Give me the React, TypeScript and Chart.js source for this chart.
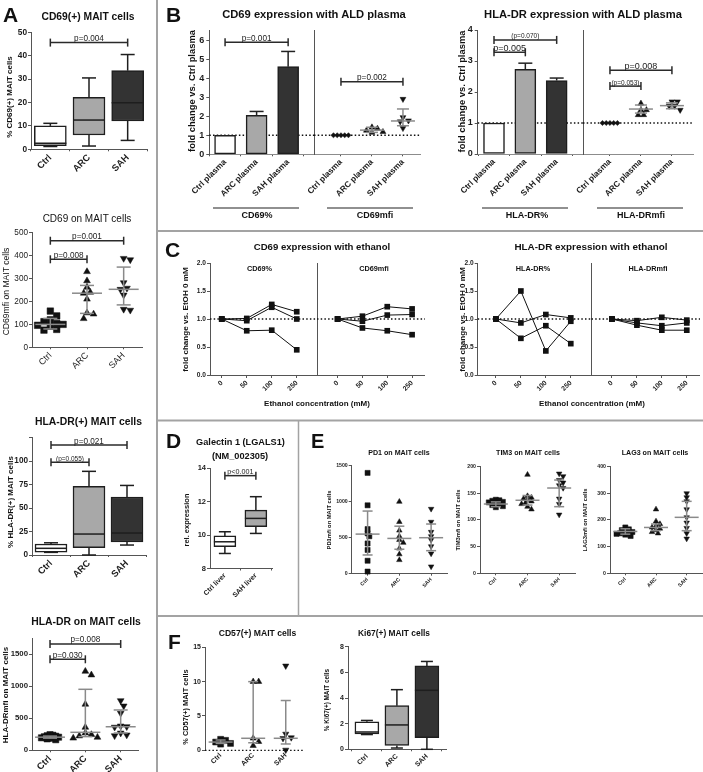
import React, { useEffect, useRef } from "react";
import { Chart, registerables } from "chart.js";
Chart.register(...registerables);

const FONT = "'Liberation Sans', Arial, Helvetica, sans-serif";
const INK = "#1c1c1c";
const AXIS = "#555555";
const LIGHT = "#ffffff";
const MID = "#a8a8a8";
const DARK = "#333333";
const SDGRAY = "#8a8a8a";

// ---------- categories ----------
const GROUPS = ["Ctrl", "ARC", "SAH"];
const PLASMA = ["Ctrl plasma", "ARC plasma", "SAH plasma"];
const ETOH = ["0", "50", "100", "250"];
const LIVER = ["Ctrl liver", "SAH liver"];

// ---------- A1: CD69(+) MAIT cells (box) ----------
const A1_MIN = [1.2, 1.4, 3.8];
const A1_Q1 = [1.6, 6.1, 12.1];
const A1_MED = [2.6, 12.5, 19.9];
const A1_Q3 = [10.0, 22.2, 33.6];
const A1_MAX = [11.1, 30.5, 40.5];

// ---------- A2: CD69 on MAIT cells (dots) ----------
const A2_CTRL = [158, 137, 120, 112, 104, 100, 96, 92, 78, 75];
const A2_ARC = [330, 290, 262, 240, 236, 210, 150, 145, 125];
const A2_SAH = [388, 382, 282, 258, 253, 228, 166, 162];
const A2_MID = [100, 236, 253];
const A2_LO = [80, 148, 185];
const A2_HI = [126, 270, 350];

// ---------- A3: HLA-DR(+) MAIT cells (box) ----------
const A3_MIN = [2.8, 0, 10.6];
const A3_Q1 = [3.0, 7.8, 13.8];
const A3_MED = [7.1, 22.3, 23.4];
const A3_Q3 = [11.7, 73, 61.7];
const A3_MAX = [13, 89, 74];

// ---------- A4: HLA-DR on MAIT cells (dots) ----------
const A4_CTRL = [245, 235, 228, 220, 212, 205, 200, 195, 188, 178, 165];
const A4_ARC = [1234, 1177, 719, 359, 271, 245, 224, 203, 190];
const A4_SAH = [776, 693, 580, 380, 370, 362, 270, 240, 228];
const A4_MID = [205, 281, 368];
const A4_LO = [190, 214, 270];
const A4_HI = [222, 953, 630];

// ---------- B1: CD69 expression with ALD plasma ----------
const B1_BAR = [1.0, 2.05, 4.6];
const B1_ERR = [null, 2.25, 5.4];
const B1_CTRL = [1, 1, 1, 1, 1];
const B1_ARC = [1.42, 1.35, 1.25, 1.18, 1.14];
const B1_SAH = [2.9, 1.94, 1.77, 1.72, 1.37];
const B1_MID = [1.0, 1.27, 1.75];
const B1_LO = [1.0, 1.15, 1.5];
const B1_HI = [1.0, 1.42, 2.38];

// ---------- B2: HLA-DR expression with ALD plasma ----------
const B2_BAR = [1.0, 2.73, 2.37];
const B2_ERR = [null, 2.93, 2.45];
const B2_CTRL = [1, 1, 1, 1, 1];
const B2_ARC = [1.63, 1.42, 1.42, 1.26, 1.26];
const B2_SAH = [1.69, 1.69, 1.55, 1.55, 1.42];
const B2_MID = [1.0, 1.45, 1.56];
const B2_LO = [1.0, 1.32, 1.46];
const B2_HI = [1.0, 1.58, 1.65];

// ---------- C: ethanol time-courses ----------
const C_CD69P_1 = [1, 1.01, 1.26, 1.13];
const C_CD69P_2 = [1, 0.97, 1.21, 1.0];
const C_CD69P_3 = [1, 0.79, 0.8, 0.45];
const C_CD69M_1 = [1, 1.05, 1.22, 1.18];
const C_CD69M_2 = [1, 0.96, 1.07, 1.08];
const C_CD69M_3 = [1, 0.84, 0.79, 0.72];
const C_HLAP_1 = [1, 1.5, 0.43, 0.96];
const C_HLAP_2 = [1, 0.93, 1.08, 1.02];
const C_HLAP_3 = [1, 0.655, 0.88, 0.56];
const C_HLAM_1 = [1, 0.97, 1.03, 0.98];
const C_HLAM_2 = [1, 0.93, 0.88, 0.93];
const C_HLAM_3 = [1, 0.89, 0.8, 0.8];

// ---------- D: Galectin 1 ----------
const D_MIN = [8.9, 10.1];
const D_Q1 = [9.3, 10.5];
const D_MED = [9.6, 11.0];
const D_Q3 = [9.95, 11.5];
const D_MAX = [10.2, 12.3];

// ---------- E: PD1 / TIM3 / LAG3 ----------
const PD1_CTRL = [1400, 950, 620, 560, 520, 420, 330, 180, 30];
const PD1_ARC = [1000, 720, 600, 520, 470, 430, 350, 270, 190];
const PD1_SAH = [900, 720, 580, 520, 470, 380, 280, 100];
const PD1_MID = [550, 490, 500];
const PD1_LO = [260, 340, 320];
const PD1_HI = [870, 660, 690];
const TIM3_CTRL = [138, 137, 136, 134, 133, 131, 130, 128, 126, 124];
const TIM3_ARC = [185, 145, 142, 140, 138, 135, 132, 130, 125, 120];
const TIM3_SAH = [187, 182, 175, 170, 165, 160, 140, 130, 110];
const TIM3_MID = [130, 137, 160];
const TIM3_LO = [125, 128, 125];
const TIM3_HI = [134, 146, 175];
const LAG3_CTRL = [172, 165, 162, 158, 155, 152, 150, 148, 145, 140];
const LAG3_ARC = [240, 195, 185, 178, 172, 168, 162, 155, 150];
const LAG3_SAH = [300, 285, 270, 240, 210, 190, 170, 150, 130];
const LAG3_MID = [157, 172, 210];
const LAG3_LO = [147, 160, 160];
const LAG3_HI = [167, 185, 270];

// ---------- F ----------
const F1_CTRL = [1.6, 1.45, 1.2, 1.0, 0.9];
const F1_ARC = [10, 10, 1.75, 1.26, 0.68];
const F1_SAH = [12.3, 2.38, 1.85, 1.75, 0.05];
const F1_MID = [1.2, 1.75, 1.75];
const F1_LO = [1.0, 1.1, 0.92];
const F1_HI = [1.5, 10, 7.25];
const F2_MIN = [1.15, 0.1, 0.0];
const F2_Q1 = [1.2, 0.3, 0.9];
const F2_MED = [1.35, 1.9, 4.6];
const F2_Q3 = [2.15, 3.4, 6.5];
const F2_MAX = [2.25, 4.65, 6.85];

// ================= helpers =================
type Area = [number, number, number, number];
interface Bracket { a: number; b: number; y: number; text: string; size?: number }
interface Deco {
  ref?: { y: number; color?: string };
  boxes?: { min: number[]; q1: number[]; med: number[]; q3: number[]; max: number[]; w: number; cap: number };
  errs?: { mid: number[]; lo: number[]; hi: number[]; mw: number; cw: number; color?: string; skip?: number[] };
  barErr?: { val: number[]; top: (number | null)[]; cw: number };
  brackets?: Bracket[];
}

function decoPlugin(d: Deco) {
  const seg = (ctx: CanvasRenderingContext2D, a: number, b: number, c: number, e: number) => {
    ctx.beginPath(); ctx.moveTo(a, b); ctx.lineTo(c, e); ctx.stroke();
  };
  return {
    id: "deco",
    beforeDatasetsDraw(chart: any) {
      if (!d.ref) return;
      const { ctx, chartArea: a, scales } = chart;
      const py = scales.y.getPixelForValue(d.ref.y);
      ctx.save();
      ctx.setLineDash([1.5, 2.2]);
      ctx.strokeStyle = d.ref.color ?? "#111";
      ctx.lineWidth = 1.3;
      seg(ctx, a.left, py, a.right, py);
      ctx.restore();
    },
    afterDatasetsDraw(chart: any) {
      const { ctx, scales } = chart;
      const X = (v: number) => scales.x.getPixelForValue(v);
      const Y = (v: number) => scales.y.getPixelForValue(v);
      ctx.save();
      if (d.boxes) {
        const b = d.boxes;
        ctx.strokeStyle = "#1e1e1e"; ctx.lineWidth = 1.5;
        b.q1.forEach((_, i) => {
          const cx = X(i + 1);
          seg(ctx, cx, Y(b.max[i]), cx, Y(b.q3[i]));
          seg(ctx, cx, Y(b.q1[i]), cx, Y(b.min[i]));
          seg(ctx, cx - b.cap / 2, Y(b.max[i]), cx + b.cap / 2, Y(b.max[i]));
          seg(ctx, cx - b.cap / 2, Y(b.min[i]), cx + b.cap / 2, Y(b.min[i]));
          seg(ctx, cx - b.w / 2, Y(b.med[i]), cx + b.w / 2, Y(b.med[i]));
        });
      }
      if (d.barErr) {
        const e = d.barErr;
        ctx.strokeStyle = "#222"; ctx.lineWidth = 1.5;
        e.val.forEach((v, i) => {
          const t = e.top[i];
          if (t == null) return;
          const cx = X(i + 1);
          seg(ctx, cx, Y(v), cx, Y(t));
          seg(ctx, cx - e.cw / 2, Y(t), cx + e.cw / 2, Y(t));
        });
      }
      if (d.errs) {
        const e = d.errs;
        ctx.strokeStyle = e.color ?? SDGRAY; ctx.lineWidth = 1.5;
        e.mid.forEach((m, i) => {
          if (e.skip && e.skip.includes(i)) return;
          const cx = X(i + 1);
          seg(ctx, cx, Y(e.lo[i]), cx, Y(e.hi[i]));
          seg(ctx, cx - e.cw / 2, Y(e.lo[i]), cx + e.cw / 2, Y(e.lo[i]));
          seg(ctx, cx - e.cw / 2, Y(e.hi[i]), cx + e.cw / 2, Y(e.hi[i]));
          seg(ctx, cx - e.mw / 2, Y(m), cx + e.mw / 2, Y(m));
        });
      }
      if (d.brackets) {
        d.brackets.forEach((br) => {
          const xa = X(br.a), xb = X(br.b), py = Y(br.y);
          ctx.strokeStyle = "#2a2a2a"; ctx.lineWidth = 1.5;
          seg(ctx, xa, py, xb, py);
          seg(ctx, xa, py - 4, xa, py + 4);
          seg(ctx, xb, py - 4, xb, py + 4);
          ctx.fillStyle = "#222";
          ctx.font = `${br.size ?? 8}px ${FONT}`;
          ctx.textAlign = "center";
          ctx.textBaseline = "alphabetic";
          ctx.fillText(br.text, (xa + xb) / 2, py - 1.5);
        });
      }
      ctx.restore();
    },
  };
}

function swarm(vals: number[], g: number, ppx: number, ppy: number, d: number) {
  const placed: { ox: number; py: number }[] = [];
  const out: { x: number; y: number }[] = new Array(vals.length);
  const order = vals.map((_, i) => i).sort((a, b) => vals[b] - vals[a]);
  for (const i of order) {
    const py = vals[i] * ppy;
    let chosen = 0;
    for (let k = 0; k < 30; k++) {
      const off = k === 0 ? 0 : (k % 2 === 1 ? 1 : -1) * Math.ceil(k / 2) * d * 0.55;
      chosen = off;
      if (placed.every((p) => Math.hypot(p.ox - off, p.py - py) >= d)) break;
    }
    placed.push({ ox: chosen, py });
    out[i] = { x: g + chosen / ppx, y: vals[i] };
  }
  return out;
}

const SQ = { s: "rect", rot: 0 };
const UP = { s: "triangle", rot: 0 };
const DN = { s: "triangle", rot: 180 };
const DIA = { s: "rectRot", rot: 0 };

interface Geo { area: Area; xmin: number; xmax: number; ymin: number; ymax: number }
function ppxy(g: Geo) {
  const [x0, y0, x1, y1] = g.area;
  return { ppx: (x1 - x0) / (g.xmax - g.xmin), ppy: (y1 - y0) / (g.ymax - g.ymin) };
}

function dots(g: Geo, vals: number[], grp: number, st: { s: string; rot: number }, r: number, d: number) {
  const { ppx, ppy } = ppxy(g);
  return {
    type: "scatter",
    data: swarm(vals, grp, ppx, ppy, d),
    pointStyle: st.s,
    pointRotation: st.rot,
    pointRadius: r,
    pointBackgroundColor: "#111",
    pointBorderColor: "#111",
    pointBorderWidth: 0.5,
    clip: false,
  };
}

function boxBars(q1: number[], q3: number[], colors: string[], w: number) {
  return {
    type: "bar",
    data: q1.map((v, i) => ({ x: i + 1, y: [v, q3[i]] })),
    backgroundColor: colors,
    borderColor: "#1e1e1e",
    borderWidth: 1.5,
    borderSkipped: false,
    barThickness: w,
  };
}

function plainBars(vals: number[], colors: string[], w: number) {
  return {
    type: "bar",
    data: vals.map((v, i) => ({ x: i + 1, y: v })),
    backgroundColor: colors,
    borderColor: "#1e1e1e",
    borderWidth: 1.5,
    borderSkipped: false,
    barThickness: w,
  };
}

function series(vals: number[]) {
  return {
    type: "line",
    data: vals.map((v, i) => ({ x: i, y: v })),
    borderColor: "#111",
    borderWidth: 1,
    pointStyle: "rect",
    pointRadius: 4,
    pointBackgroundColor: "#111",
    pointBorderWidth: 0,
    tension: 0,
    clip: false,
  };
}

interface BuildOpts extends Geo {
  L: number; T?: number; R?: number; B: number;
  xpos: number[]; xlabels: string[]; xfont: number; xTick?: number; xBorder?: boolean; xColor?: string; xWeight?: string;
  yticks: number[]; yfont: number; yfmt?: (v: number) => string; showY?: boolean; yWeight?: string; yTick?: number; yPad?: number;
  datasets: any[]; deco?: Deco;
}
interface Spec { left: number; top: number; w: number; h: number; config: any }

function build(o: BuildOpts): Spec {
  const [x0, y0, x1, y1] = o.area;
  const T = o.T ?? 14, R = o.R ?? 12;
  const left = Math.floor(x0 - o.L), top = Math.floor(y0 - T);
  const w = Math.ceil(x1 - left + R), h = Math.ceil(y1 - top + o.B);
  const padL = x0 - left, padT = y0 - top, padR = w - (x1 - left), padB = h - (y1 - top);
  const showY = o.showY !== false;
  const fmt = o.yfmt ?? ((v: number) => String(v));
  const config = {
    type: "scatter",
    data: { datasets: o.datasets },
    options: {
      responsive: false,
      maintainAspectRatio: false,
      animation: false,
      events: [],
      layout: { autoPadding: false, padding: { left: 0, top: padT, right: padR, bottom: 0 } },
      plugins: { legend: { display: false }, tooltip: { enabled: false }, title: { display: false } },
      scales: {
        x: {
          type: "linear", min: o.xmin, max: o.xmax, offset: false,
          afterBuildTicks: (s: any) => { s.ticks = o.xpos.map((v) => ({ value: v })); },
          afterFit: (s: any) => { s.height = padB; s.paddingLeft = 0; s.paddingRight = 0; s.paddingTop = 0; s.paddingBottom = 0; },
          ticks: {
            display: o.xlabels.length > 0, autoSkip: false, maxRotation: 45, minRotation: 45,
            font: { family: FONT, size: o.xfont, weight: o.xWeight ?? "bold" }, color: INK, padding: 1,
            callback: (_v: any, i: number) => o.xlabels[i],
          },
          grid: { display: true, drawOnChartArea: false, drawTicks: true, tickLength: o.xTick ?? 2, color: AXIS, lineWidth: 1 },
          border: { display: o.xBorder !== false, color: o.xColor ?? AXIS, width: 1 },
        },
        y: {
          type: "linear", min: o.ymin, max: o.ymax,
          afterBuildTicks: (s: any) => { s.ticks = o.yticks.map((v) => ({ value: v })); },
          afterFit: (s: any) => { s.width = padL; s.paddingTop = 0; s.paddingBottom = 0; s.paddingLeft = 0; s.paddingRight = 0; },
          ticks: {
            display: showY, font: { family: FONT, size: o.yfont, weight: o.yWeight ?? "bold" }, color: INK, padding: o.yPad ?? 1,
            callback: (v: number) => fmt(v),
          },
          grid: { display: showY, drawOnChartArea: false, drawTicks: true, tickLength: o.yTick ?? 3, color: AXIS, lineWidth: 1 },
          border: { display: true, color: AXIS, width: 1 },
        },
      },
    },
    plugins: [decoPlugin(o.deco ?? {})],
  };
  return { left, top, w, h, config };
}

// ================= chart specs =================
const G3 = [1, 2, 3];
const G2 = [1, 2];
const E4 = [0, 1, 2, 3];

function makeSpecs(): Spec[] {
  const specs: Spec[] = [];

  // A1
  specs.push(build({
    area: [31, 32.3, 147, 149.3], xmin: 0.5, xmax: 3.5, ymin: 0, ymax: 50, L: 31, B: 30,
    xpos: G3, xlabels: GROUPS, xfont: 9.3, yticks: [0, 10, 20, 30, 40, 50], yfont: 8.3,
    datasets: [boxBars(A1_Q1, A1_Q3, [LIGHT, MID, DARK], 32)],
    deco: {
      boxes: { min: A1_MIN, q1: A1_Q1, med: A1_MED, q3: A1_Q3, max: A1_MAX, w: 32, cap: 14 },
      brackets: [{ a: 1, b: 3, y: 45.6, text: "p=0.004", size: 8.2 }],
    },
  }));

  // A2
  const gA2: Geo = { area: [32, 232.7, 142, 347.3], xmin: 0.5, xmax: 3.5, ymin: 0, ymax: 500 };
  specs.push(build({
    ...gA2, L: 32, B: 30, xpos: G3, xlabels: GROUPS, xfont: 9, xWeight: "normal",
    yticks: [0, 100, 200, 300, 400, 500], yfont: 8.2, yWeight: "normal",
    datasets: [
      dots(gA2, A2_CTRL, 1, SQ, 4.6, 5.8),
      dots(gA2, A2_ARC, 2, UP, 3.9, 6),
      dots(gA2, A2_SAH, 3, DN, 3.9, 6),
    ],
    deco: {
      errs: { mid: A2_MID, lo: A2_LO, hi: A2_HI, mw: 30, cw: 14 },
      brackets: [
        { a: 1, b: 3, y: 465, text: "p=0.001", size: 8.2 },
        { a: 1, b: 2, y: 384, text: "p=0.008", size: 8.2 },
      ],
    },
  }));

  // A3
  specs.push(build({
    area: [32, 437.5, 146, 555], xmin: 0.5, xmax: 3.5, ymin: 0, ymax: 125, L: 32, B: 30,
    xpos: G3, xlabels: GROUPS, xfont: 9.3, yticks: [0, 25, 50, 75, 100, 125], yfont: 8.2,
    yfmt: (v) => (v > 100 ? "" : String(v)),
    datasets: [boxBars(A3_Q1, A3_Q3, [LIGHT, MID, DARK], 32)],
    deco: {
      boxes: { min: A3_MIN, q1: A3_Q1, med: A3_MED, q3: A3_Q3, max: A3_MAX, w: 32, cap: 14 },
      brackets: [
        { a: 1, b: 3, y: 117, text: "p=0.021", size: 8.2 },
        { a: 1, b: 2, y: 98.6, text: "(p=0.055)", size: 6.5 },
      ],
    },
  }));

  // A4
  const gA4: Geo = { area: [32, 638.3, 138, 750.3], xmin: 0.49, xmax: 3.49, ymin: 0, ymax: 1750 };
  specs.push(build({
    ...gA4, L: 32, B: 22, xpos: G3, xlabels: GROUPS, xfont: 9.3,
    yticks: [0, 500, 1000, 1500], yfont: 7.8,
    datasets: [
      dots(gA4, A4_CTRL, 1, SQ, 4.4, 2.6),
      dots(gA4, A4_ARC, 2, UP, 3.9, 5.5),
      dots(gA4, A4_SAH, 3, DN, 3.9, 5.5),
    ],
    deco: {
      errs: { mid: A4_MID, lo: A4_LO, hi: A4_HI, mw: 30, cw: 14 },
      brackets: [
        { a: 1, b: 3, y: 1661, text: "p=0.008", size: 8.2 },
        { a: 1, b: 2, y: 1422, text: "p=0.030", size: 8.2 },
      ],
    },
  }));

  // B1 left (bars)
  specs.push(build({
    area: [209.3, 30.5, 314, 154.3], xmin: 0.5, xmax: 3.82, ymin: 0, ymax: 6.5, L: 26, R: 0, B: 50,
    xpos: G3, xlabels: PLASMA, xfont: 8.3, xColor: "#8c8c8c", yticks: [0, 1, 2, 3, 4, 5, 6], yfont: 9, yPad: 2,
    datasets: [plainBars(B1_BAR, [LIGHT, MID, DARK], 21)],
    deco: {
      ref: { y: 1 },
      barErr: { val: B1_BAR, top: B1_ERR, cw: 14 },
      brackets: [{ a: 1, b: 3, y: 5.88, text: "p=0.001", size: 8.2 }],
    },
  }));
  // B1 right (dots)
  const gB1R: Geo = { area: [314, 30.5, 420, 154.3], xmin: 0.13, xmax: 3.55, ymin: 0, ymax: 6.5 };
  specs.push(build({
    ...gB1R, L: 34, R: 8, B: 50, xpos: G3, xlabels: PLASMA, xfont: 8.3, xColor: "#8c8c8c",
    yticks: [], yfont: 9, showY: false,
    datasets: [
      dots(gB1R, B1_CTRL, 1, DIA, 2.6, 3.4),
      dots(gB1R, B1_ARC, 2, UP, 3.4, 5),
      dots(gB1R, B1_SAH, 3, DN, 3.4, 5),
    ],
    deco: {
      ref: { y: 1 },
      errs: { mid: B1_MID, lo: B1_LO, hi: B1_HI, mw: 24, cw: 12, skip: [0] },
      brackets: [{ a: 1, b: 3, y: 3.81, text: "p=0.002", size: 8.2 }],
    },
  }));

  // B2 left
  specs.push(build({
    area: [477.7, 30, 583, 154], xmin: 0.48, xmax: 3.84, ymin: 0, ymax: 4, L: 26, R: 0, B: 50,
    xpos: G3, xlabels: PLASMA, xfont: 8.3, xColor: "#8c8c8c", yticks: [0, 1, 2, 3, 4], yfont: 9, yPad: 2,
    datasets: [plainBars(B2_BAR, [LIGHT, MID, DARK], 21)],
    deco: {
      ref: { y: 1 },
      barErr: { val: B2_BAR, top: B2_ERR, cw: 14 },
      brackets: [
        { a: 1, b: 3, y: 3.68, text: "(p=0.070)", size: 6.5 },
        { a: 1, b: 2, y: 3.28, text: "p=0.005", size: 9 },
      ],
    },
  }));
  // B2 right
  const gB2R: Geo = { area: [583, 30, 693, 154], xmin: 0.13, xmax: 3.68, ymin: 0, ymax: 4 };
  specs.push(build({
    ...gB2R, L: 34, R: 8, B: 50, xpos: G3, xlabels: PLASMA, xfont: 8.3, xColor: "#8c8c8c",
    yticks: [], yfont: 9, showY: false,
    datasets: [
      dots(gB2R, B2_CTRL, 1, DIA, 2.6, 3.4),
      dots(gB2R, B2_ARC, 2, UP, 3.4, 5),
      dots(gB2R, B2_SAH, 3, DN, 3.4, 5),
    ],
    deco: {
      ref: { y: 1 },
      errs: { mid: B2_MID, lo: B2_LO, hi: B2_HI, mw: 24, cw: 12, skip: [0] },
      brackets: [
        { a: 1, b: 3, y: 2.7, text: "p=0.008", size: 9 },
        { a: 1, b: 2, y: 2.19, text: "(p=0.053)", size: 6.5 },
      ],
    },
  }));

  // C panels
  const cY = { ymin: 0, ymax: 2, yticks: [0, 0.5, 1, 1.5, 2], yfont: 6.6, yfmt: (v: number) => v.toFixed(1) };
  const cPanels: { area: Area; xmin: number; xmax: number; showY: boolean; s: number[][] }[] = [
    { area: [210, 263, 317, 375], xmin: -0.47, xmax: 3.81, showY: true, s: [C_CD69P_1, C_CD69P_2, C_CD69P_3] },
    { area: [317, 263, 425, 375], xmin: -0.83, xmax: 3.52, showY: false, s: [C_CD69M_1, C_CD69M_2, C_CD69M_3] },
    { area: [477.7, 263, 591.5, 375], xmin: -0.73, xmax: 3.83, showY: true, s: [C_HLAP_1, C_HLAP_2, C_HLAP_3] },
    { area: [591.5, 263, 700, 375], xmin: -0.82, xmax: 3.53, showY: false, s: [C_HLAM_1, C_HLAM_2, C_HLAM_3] },
  ];
  cPanels.forEach((p) => {
    specs.push(build({
      area: p.area, xmin: p.xmin, xmax: p.xmax, ...cY, showY: p.showY,
      L: 20, R: 0, B: 24, xpos: E4, xlabels: ETOH, xfont: 6.8, xTick: 3,
      datasets: p.s.map(series),
      deco: { ref: { y: 1 } },
    }));
  });

  // D
  specs.push(build({
    area: [210, 468.3, 272, 568.5], xmin: 0.52, xmax: 2.52, ymin: 8, ymax: 14, L: 20, B: 40,
    xpos: G2, xlabels: LIVER, xfont: 7, yticks: [8, 10, 12, 14], yfont: 7.5,
    datasets: [boxBars(D_Q1, D_Q3, [LIGHT, MID], 22)],
    deco: {
      boxes: { min: D_MIN, q1: D_Q1, med: D_MED, q3: D_Q3, max: D_MAX, w: 22, cap: 12 },
      brackets: [{ a: 1, b: 2, y: 13.56, text: "p<0.001", size: 7.2 }],
    },
  }));

  // E
  const ePanels: { g: Geo; t: number[]; v: number[][]; m: number[][] }[] = [
    { g: { area: [351.7, 465.7, 447, 573.7], xmin: 0.5, xmax: 3.5, ymin: 0, ymax: 1500 }, t: [0, 500, 1000, 1500],
      v: [PD1_CTRL, PD1_ARC, PD1_SAH], m: [PD1_MID, PD1_LO, PD1_HI] },
    { g: { area: [480, 466.7, 575, 573.3], xmin: 0.5, xmax: 3.5, ymin: 0, ymax: 200 }, t: [0, 50, 100, 150, 200],
      v: [TIM3_CTRL, TIM3_ARC, TIM3_SAH], m: [TIM3_MID, TIM3_LO, TIM3_HI] },
    { g: { area: [610, 466.7, 702, 573.3], xmin: 0.5, xmax: 3.5, ymin: 0, ymax: 400 }, t: [0, 100, 200, 300, 400],
      v: [LAG3_CTRL, LAG3_ARC, LAG3_SAH], m: [LAG3_MID, LAG3_LO, LAG3_HI] },
  ];
  ePanels.forEach((p) => {
    specs.push(build({
      ...p.g, L: 20, R: 1, B: 22, xpos: G3, xlabels: GROUPS, xfont: 5.2, yticks: p.t, yfont: 5.2,
      datasets: [
        dots(p.g, p.v[0], 1, SQ, 3.6, 3.2),
        dots(p.g, p.v[1], 2, UP, 3.2, 3.6),
        dots(p.g, p.v[2], 3, DN, 3.2, 3.6),
      ],
      deco: { errs: { mid: p.m[0], lo: p.m[1], hi: p.m[2], mw: 24, cw: 10 } },
    }));
  });

  // F1
  const gF1: Geo = { area: [205, 647.3, 303, 750.3], xmin: 0.52, xmax: 3.53, ymin: 0, ymax: 15 };
  specs.push(build({
    ...gF1, L: 20, B: 22, xpos: G3, xlabels: GROUPS, xfont: 7, xBorder: false, xTick: 0,
    yticks: [0, 5, 10, 15], yfont: 7,
    datasets: [
      dots(gF1, F1_CTRL, 1, SQ, 4.2, 4.5),
      dots(gF1, F1_ARC, 2, UP, 3.6, 5),
      dots(gF1, F1_SAH, 3, DN, 3.6, 5),
    ],
    deco: { ref: { y: 0 }, errs: { mid: F1_MID, lo: F1_LO, hi: F1_HI, mw: 24, cw: 10 } },
  }));

  // F2
  specs.push(build({
    area: [348, 646.7, 446.7, 749.3], xmin: 0.37, xmax: 3.66, ymin: 0, ymax: 8, L: 20, B: 22,
    xpos: G3, xlabels: GROUPS, xfont: 7, yticks: [0, 2, 4, 6, 8], yfont: 7,
    datasets: [boxBars(F2_Q1, F2_Q3, [LIGHT, MID, DARK], 24)],
    deco: { boxes: { min: F2_MIN, q1: F2_Q1, med: F2_MED, q3: F2_Q3, max: F2_MAX, w: 24, cap: 12 } },
  }));

  return specs;
}

function ChartCanvas({ spec }: { spec: Spec }) {
  const ref = useRef<HTMLCanvasElement>(null);
  useEffect(() => {
    const c = new Chart(ref.current as HTMLCanvasElement, spec.config);
    return () => c.destroy();
  }, [spec]);
  return (
    <canvas
      ref={ref}
      width={spec.w}
      height={spec.h}
      style={{ position: "absolute", left: spec.left, top: spec.top, width: spec.w, height: spec.h }}
    />
  );
}

// ================= text overlay =================
type Txt = { t: string; x: number; y: number; s: number; w?: string; rot?: boolean; anchor?: string };
const TEXTS: Txt[] = [
  // panel letters
  { t: "A", x: 3, y: 22, s: 21, anchor: "start" },
  { t: "B", x: 166, y: 22, s: 21, anchor: "start" },
  { t: "C", x: 165, y: 257, s: 21, anchor: "start" },
  { t: "D", x: 166, y: 448, s: 21, anchor: "start" },
  { t: "E", x: 311, y: 448, s: 20, anchor: "start" },
  { t: "F", x: 168, y: 649, s: 21, anchor: "start" },
  // titles
  { t: "CD69(+) MAIT cells", x: 88, y: 20, s: 10.3 },
  { t: "CD69 on MAIT cells", x: 87, y: 222, s: 10, w: "normal" },
  { t: "HLA-DR(+) MAIT cells", x: 88.5, y: 425, s: 10.4 },
  { t: "HLA-DR on MAIT cells", x: 86, y: 625, s: 10.4 },
  { t: "CD69 expression with ALD plasma", x: 314, y: 18, s: 11.2 },
  { t: "HLA-DR expression with ALD plasma", x: 583, y: 18, s: 11.2 },
  { t: "CD69 expression with ethanol", x: 322, y: 250, s: 9.6 },
  { t: "HLA-DR expression with ethanol", x: 591, y: 250, s: 9.9 },
  { t: "Galectin 1 (LGALS1)", x: 240.5, y: 445, s: 9.2 },
  { t: "(NM_002305)", x: 240, y: 458.5, s: 9.2 },
  { t: "PD1 on MAIT cells", x: 399, y: 454.5, s: 7.1 },
  { t: "TIM3 on MAIT cells", x: 528, y: 454.5, s: 7.1 },
  { t: "LAG3 on MAIT cells", x: 655, y: 454.5, s: 7.1 },
  { t: "CD57(+) MAIT cells", x: 257.5, y: 635.5, s: 8.6 },
  { t: "Ki67(+) MAIT cells", x: 394, y: 636, s: 8.4 },
  // y-axis titles
  { t: "% CD69(+) MAIT cells", x: 9.5, y: 97, s: 8, rot: true },
  { t: "CD69mfi on MAIT cells", x: 6, y: 291.5, s: 8.6, rot: true, w: "normal" },
  { t: "% HLA-DR(+) MAIT cells", x: 10, y: 502, s: 8, rot: true },
  { t: "HLA-DRmfi on MAIT cells", x: 5, y: 695, s: 8, rot: true },
  { t: "fold change vs. Ctrl plasma", x: 191, y: 91, s: 9.4, rot: true },
  { t: "fold change vs. Ctrl plasma", x: 461, y: 91.5, s: 9.4, rot: true },
  { t: "fold change vs. EtOH 0 mM", x: 185, y: 319.5, s: 8.1, rot: true },
  { t: "fold change vs. EtOH 0 mM", x: 462, y: 319.5, s: 8.1, rot: true },
  { t: "rel. expression", x: 186, y: 520, s: 7.5, rot: true },
  { t: "PD1mfi on MAIT cells", x: 329, y: 520, s: 5.8, rot: true },
  { t: "TIM3mfi on MAIT cells", x: 458, y: 520, s: 5.8, rot: true },
  { t: "LAG3mfi on MAIT cells", x: 585, y: 520, s: 5.8, rot: true },
  { t: "% CD57(+) MAIT cells", x: 185, y: 707, s: 7.4, rot: true },
  { t: "% Ki67(+) MAIT cells", x: 326, y: 700, s: 6.4, rot: true },
  // group labels B
  { t: "CD69%", x: 257, y: 218, s: 9 },
  { t: "CD69mfi", x: 375, y: 218, s: 9 },
  { t: "HLA-DR%", x: 527, y: 218, s: 9 },
  { t: "HLA-DRmfi", x: 641, y: 218, s: 9 },
  // sub labels C
  { t: "CD69%", x: 259.5, y: 271, s: 7.3 },
  { t: "CD69mfi", x: 374, y: 271, s: 7.3 },
  { t: "HLA-DR%", x: 533, y: 271, s: 7.3 },
  { t: "HLA-DRmfi", x: 648, y: 271, s: 7.3 },
  // C x titles
  { t: "Ethanol concentration (mM)", x: 317, y: 406, s: 8 },
  { t: "Ethanol concentration (mM)", x: 592, y: 406, s: 8 },
];

type Ln = [number, number, number, number, number, string];
const LINES: Ln[] = [
  [157, 0, 157, 772, 2, "#a3a3a3"],
  [157, 231, 703, 231, 2, "#a3a3a3"],
  [157, 420.5, 703, 420.5, 2, "#a3a3a3"],
  [157, 616, 703, 616, 2, "#a3a3a3"],
  [298.5, 421, 298.5, 616, 1.5, "#a3a3a3"],
  [213, 208, 299, 208, 1.2, "#222"],
  [327, 208, 413, 208, 1.2, "#222"],
  [482, 208, 568, 208, 1.2, "#222"],
  [597, 208, 683, 208, 1.2, "#222"],
];

export default function App() {
  const specs = React.useMemo(() => makeSpecs(), []);
  return (
    <div style={{ position: "absolute", left: 0, top: 0, width: 703, height: 772, background: "#fff", overflow: "hidden" }}>
      {specs.map((s, i) => (
        <ChartCanvas key={i} spec={s} />
      ))}
      <svg width={703} height={772} style={{ position: "absolute", left: 0, top: 0, pointerEvents: "none" }}>
        {LINES.map((l, i) => (
          <line key={"l" + i} x1={l[0]} y1={l[1]} x2={l[2]} y2={l[3]} stroke={l[5]} strokeWidth={l[4]} />
        ))}
        {TEXTS.map((t, i) => (
          <text
            key={"t" + i}
            x={t.x}
            y={t.y}
            fontFamily={FONT}
            fontSize={t.s}
            fontWeight={t.w ?? "bold"}
            fill="#111"
            textAnchor={(t.anchor as any) ?? "middle"}
            dominantBaseline={t.rot ? "central" : "alphabetic"}
            transform={t.rot ? `rotate(-90 ${t.x} ${t.y})` : undefined}
          >
            {t.t}
          </text>
        ))}
      </svg>
    </div>
  );
}
